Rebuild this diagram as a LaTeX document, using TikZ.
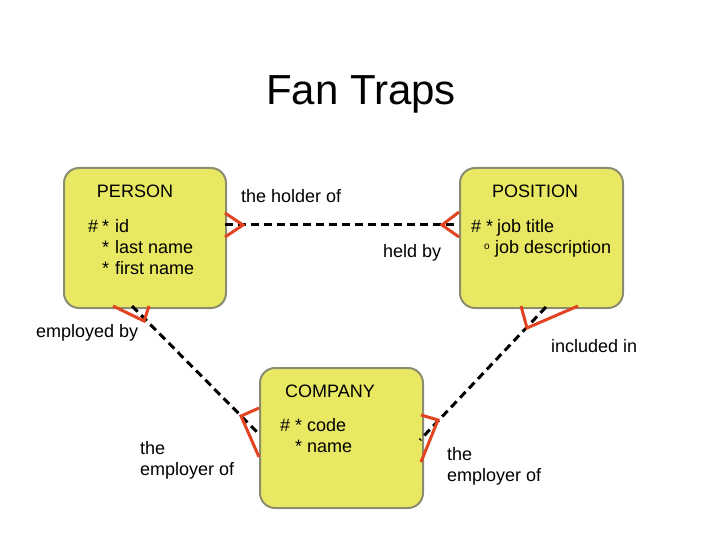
\documentclass[tikz,border=0pt]{standalone}
\usepackage{fontspec}
\setmainfont{Liberation Sans}
\definecolor{boxfill}{RGB}{232,232,98}
\definecolor{boxdraw}{RGB}{140,140,112}
\definecolor{crow}{RGB}{226,68,34}
\begin{document}
\begin{tikzpicture}[x=1pt,y=-1pt,
  entity/.style={draw=boxdraw, fill=boxfill, line width=2pt, rounded corners=15pt, anchor=north west, inner sep=0pt},
  rel/.style={line width=3pt, dash pattern=on 8pt off 5pt, black},
  foot/.style={draw=crow, line width=3pt, line join=miter},
  txt/.style={font=\fontsize{18}{21.5}\selectfont, inner sep=0pt, anchor=base west},
  ttl/.style={font=\fontsize{18}{21.5}\selectfont, inner sep=0pt, anchor=base},
  smallo/.style={font=\fontsize{10}{10}\selectfont, inner sep=0pt, anchor=base west}]
\useasboundingbox (0,0) rectangle (720,540);

% title
\node[font=\fontsize{42}{48}\selectfont, inner sep=0pt, anchor=base] (title) at (361,105) {Fan Traps};

% entities
\node[entity, minimum width=162pt, minimum height=140pt] (person) at (63,167) {};
\node[entity, minimum width=163pt, minimum height=140pt] (position) at (459,167) {};
\node[entity, minimum width=163pt, minimum height=140pt] (company) at (259,367) {};

% PERSON text
\node[ttl] (pname) at (135,197) {PERSON};
\node[txt] (p1h) at (88,233) {\#};
\node[txt] (p1s) at (102,233) {*};
\node[txt] (p1) at (115,233) {id};
\node[txt] (p2s) at (102,253.5) {*};
\node[txt] (p2) at (115,253.5) {last name};
\node[txt] (p3s) at (102,274) {*};
\node[txt] (p3) at (115,274) {first name};

% POSITION text
\node[ttl] (qname) at (535,197) {POSITION};
\node[txt] (q1h) at (471,233) {\#};
\node[txt] (q1s) at (486,233) {*};
\node[txt] (q1) at (497,233) {job title};
\node[smallo] (q2o) at (484,249) {o};
\node[txt] (q2) at (495,253.5) {job description};

% COMPANY text
\node[ttl] (cname) at (330,397) {COMPANY};
\node[txt] (c1h) at (280,431) {\#};
\node[txt] (c1s) at (295,431) {*};
\node[txt] (c1) at (307,431) {code};
\node[txt] (c2s) at (295,452) {*};
\node[txt] (c2) at (307,452) {name};

% relationship labels
\node[txt] (l1) at (241,203) {the holder of};
\node[txt] (l2) at (383,257) {held by};
\node[txt] (l3) at (36,337) {employed by};
\node[txt] (l4) at (551,352) {included in};
\node[txt] (l5a) at (140,454) {the};
\node[txt] (l5b) at (140,475.5) {employer of};
\node[txt] (l6a) at (447,460) {the};
\node[txt] (l6b) at (447,481.5) {employer of};

% end points
\coordinate (a1) at (225,225);
\coordinate (a2) at (459,225);
\coordinate (b1) at (132,306);
\coordinate (b2) at (258,433);
\coordinate (c1) at (546,307);
\coordinate (c2) at (420,440);

% relationship lines
\draw[rel] (a1) -- (a2);
\draw[rel] (b1) -- (b2);
\draw[rel] (c1) -- (c2);

% crow's feet
\draw[foot] (225,213) -- (243,225) -- (225,237);
\draw[foot] (459,212) -- (442,225) -- (459,237);
\draw[foot] (113,306) -- (144,321) -- (149,306);
\draw[foot] (259,408) -- (241,416) -- (259,457);
\draw[foot] (521,306) -- (527,328) -- (578,306);
\draw[foot] (421,415) -- (438,420) -- (421,462);
\end{tikzpicture}
\end{document}
